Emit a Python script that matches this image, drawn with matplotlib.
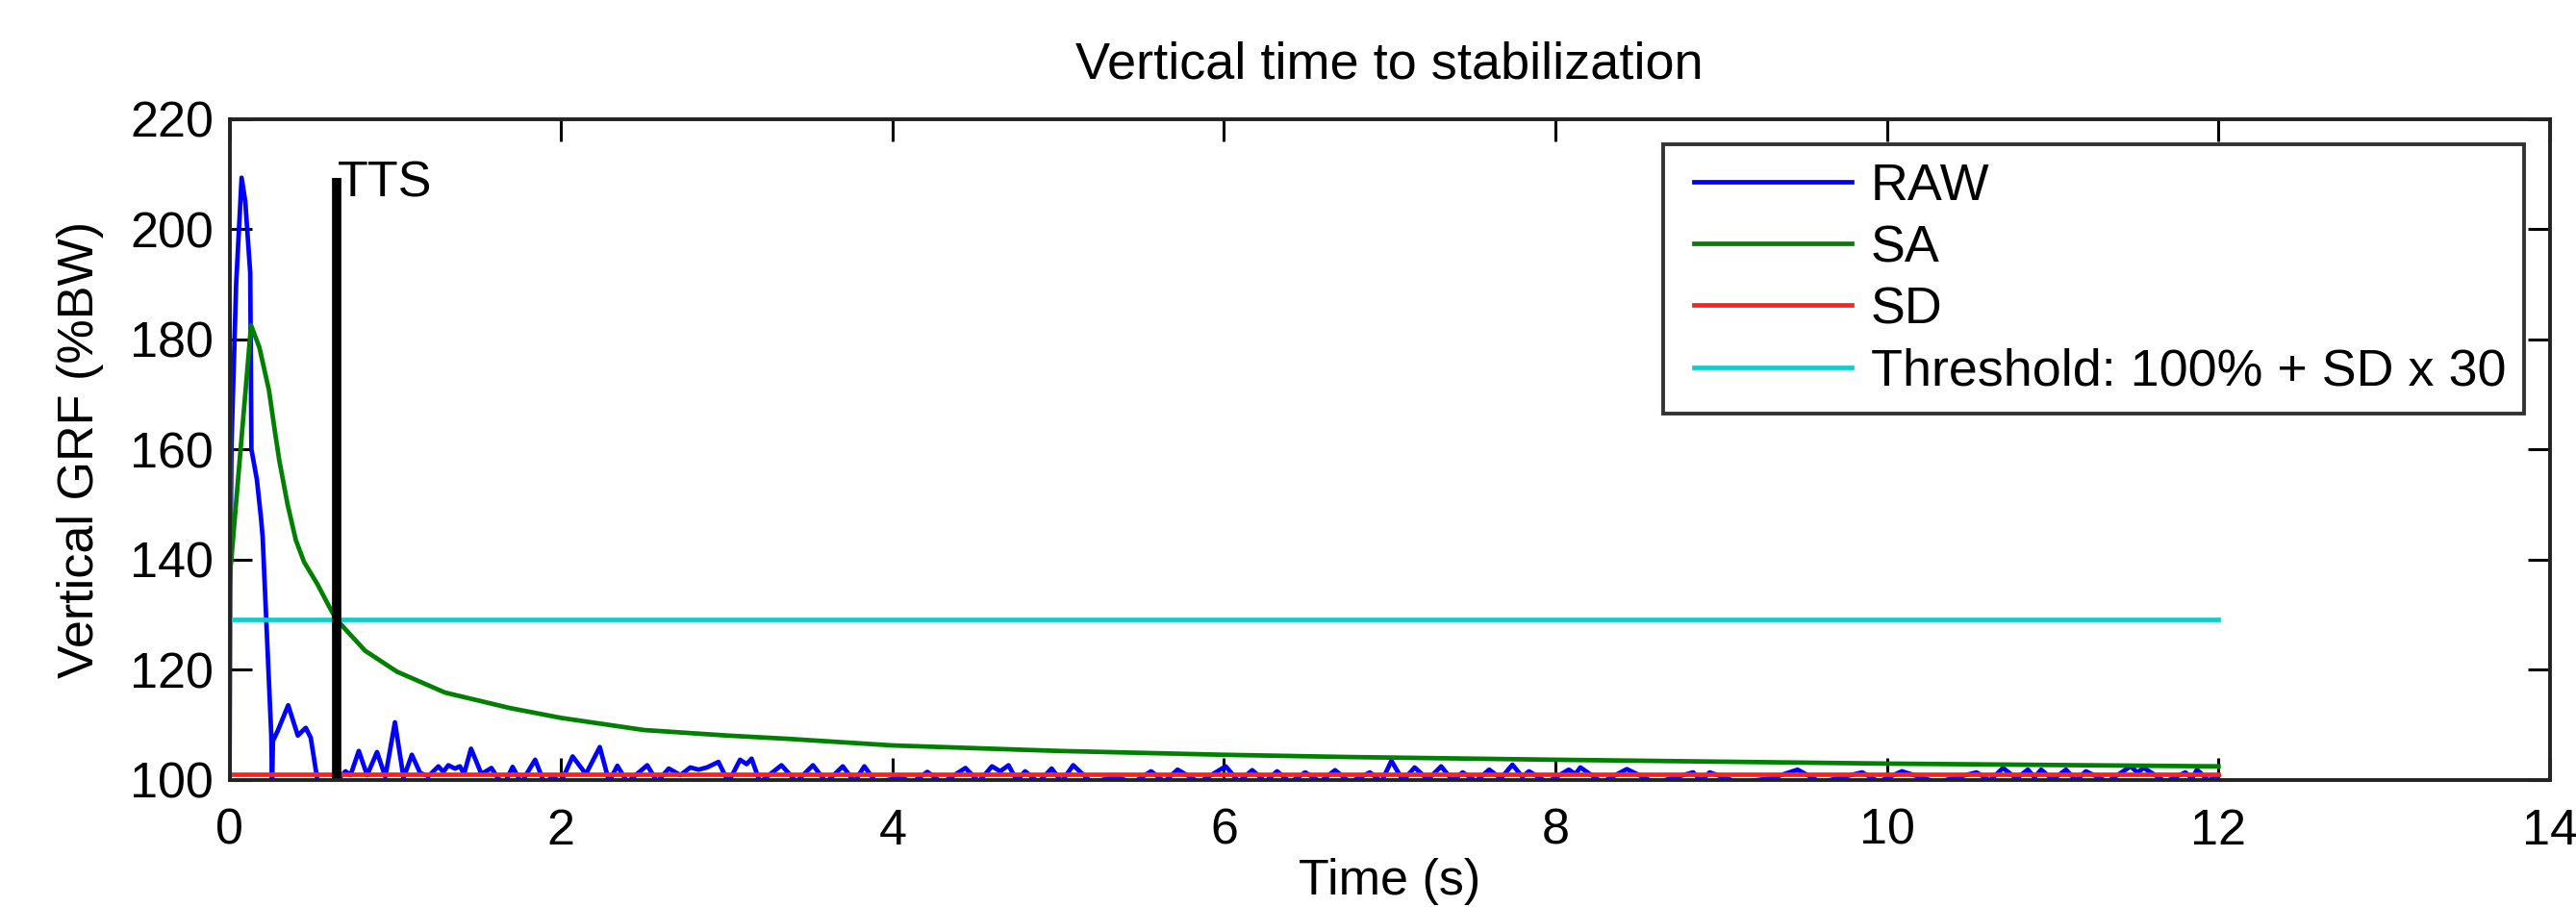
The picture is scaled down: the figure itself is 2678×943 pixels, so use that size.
import matplotlib
matplotlib.use('Agg')
import matplotlib.pyplot as plt
from matplotlib.legend_handler import HandlerLine2D

plt.rcParams['font.family'] = ['Liberation Sans', 'DejaVu Sans']
plt.rcParams['font.size'] = 37.5

# RAW vertical GRF (%BW)
raw_t = [0.000, 0.004, 0.012, 0.040, 0.073, 0.095, 0.125, 0.132, 0.165, 0.190,
         0.200, 0.238, 0.252, 0.257, 0.262, 0.290, 0.354, 0.412, 0.460, 0.490,
         0.520, 0.535, 0.600, 0.670, 0.700, 0.730, 0.780, 0.830, 0.890, 0.940,
         0.998, 1.050, 1.100, 1.150, 1.200, 1.260, 1.290, 1.320, 1.360, 1.390,
         1.415, 1.457, 1.520, 1.580, 1.620, 1.660, 1.708, 1.760, 1.844, 1.900,
         1.950, 2.000, 2.070, 2.150, 2.234, 2.290, 2.340, 2.400, 2.520, 2.580,
         2.650, 2.720, 2.780, 2.830, 2.880, 2.950, 3.010, 3.080, 3.120, 3.150,
         3.200, 3.330, 3.420, 3.520, 3.600, 3.700, 3.770, 3.830, 3.900, 4.050,
         4.120, 4.210, 4.300, 4.440, 4.520, 4.600, 4.650, 4.700, 4.750, 4.800,
         4.880, 4.960, 5.020, 5.090, 5.200, 5.350, 5.450, 5.560, 5.640, 5.720,
         5.850, 6.010, 6.090, 6.170, 6.250, 6.320, 6.400, 6.490, 6.580, 6.670,
         6.760, 6.880, 6.950, 7.010, 7.080, 7.150, 7.230, 7.310, 7.380, 7.440,
         7.520, 7.600, 7.670, 7.740, 7.800, 7.840, 7.950, 8.080, 8.120, 8.150,
         8.280, 8.430, 8.600, 8.830, 8.880, 8.930, 9.100, 9.300, 9.460, 9.600,
         9.850, 9.950, 10.090, 10.300, 10.540, 10.620, 10.700, 10.780, 10.850, 10.890,
         10.930, 11.000, 11.080, 11.140, 11.200, 11.330, 11.470, 11.510, 11.550, 11.680,
         11.800, 11.840, 11.870, 11.940, 12.000]
raw_v = [100.0, 135.0, 161.0, 190.0, 209.3, 205.0, 192.0, 160.0, 154.5, 147.5,
         144.0, 117.5, 108.0, 99.0, 107.0, 108.8, 113.5, 108.0, 109.4, 107.6,
         101.8, 99.0, 98.8, 100.5, 101.5, 100.8, 105.2, 100.8, 105.0, 100.5,
         110.4, 100.3, 104.5, 101.2, 100.6, 102.4, 101.4, 102.6, 102.0, 102.4,
         101.0, 105.6, 101.0, 102.1, 100.2, 99.3, 102.3, 99.4, 103.6, 99.3,
         100.5, 99.5, 104.2, 101.0, 105.9, 99.6, 102.5, 99.5, 102.6, 99.6,
         102.0, 100.8, 102.2, 101.8, 102.2, 103.2, 99.5, 103.6, 102.8, 103.8,
         99.5, 102.6, 99.6, 102.6, 99.5, 102.4, 99.6, 102.4, 99.5, 100.4,
         99.5, 101.4, 99.4, 102.1, 99.6, 102.4, 101.5, 102.6, 99.8, 101.5,
         99.5, 102.0, 99.6, 102.6, 99.5, 100.5, 99.4, 101.5, 99.6, 101.8,
         99.5, 102.4, 99.6, 101.7, 99.6, 101.5, 99.5, 101.3, 99.6, 101.7,
         99.5, 101.3, 99.6, 103.4, 99.8, 102.2, 100.0, 102.4, 99.8, 101.3,
         99.7, 101.8, 100.2, 102.7, 100.5, 101.5, 99.5, 101.8, 101.0, 102.2,
         99.5, 101.9, 99.4, 101.3, 99.8, 101.3, 99.5, 100.2, 101.8, 99.5,
         101.3, 99.6, 101.5, 99.5, 101.3, 99.8, 102.1, 100.2, 101.8, 100.4,
         101.8, 100.0, 101.8, 99.8, 101.5, 99.6, 102.4, 101.3, 102.1, 99.6,
         101.3, 100.2, 101.8, 99.8, 100.8]

# sequential average (SA)
sa_t = [0.000, 0.008, 0.130, 0.180, 0.238, 0.270, 0.300, 0.350, 0.400, 0.450,
        0.530, 0.605, 0.644, 0.818, 1.010, 1.300, 1.690, 2.000, 2.500, 3.000,
        3.370, 4.000, 5.000, 6.000, 6.740, 8.000, 10.000, 12.000]
sa_v = [185.5, 139.0, 182.5, 178.5, 170.7, 164.0, 158.0, 150.0, 143.5, 139.5,
        135.5, 131.2, 129.1, 123.4, 119.6, 115.8, 113.0, 111.2, 109.0, 108.0,
        107.4, 106.2, 105.2, 104.5, 104.1, 103.6, 102.9, 102.4]

# SD line and threshold (100% + SD x 30)
sd_t = [0, 12]
sd_v = [100.9, 100.9]
thr_t = [0, 12]
thr_v = [129.1, 129.1]

# time to stabilization marker
tts_time = 0.644
tts_peak = 209.3

fig = plt.figure(figsize=(26.78, 9.43), dpi=100)
ax = fig.add_axes([0.0891, 0.1405, 0.9008, 0.7285])

lw = 3.4
ax.plot(raw_t, raw_v, color='#0000ff', lw=lw, label='RAW')
ax.plot(sa_t, sa_v, color='#008000', lw=lw, label='SA')
ax.plot(sd_t, sd_v, color='#ff2020', lw=lw, label='SD')
ax.plot(thr_t, thr_v, color='#10cccc', lw=lw, label='Threshold: 100% + SD x 30')
ax.plot([tts_time, tts_time], [100, tts_peak], color='black', lw=7, solid_capstyle='butt')
ax.text(tts_time + 0.01, 205.8, 'TTS', va='baseline', ha='left')

ax.set_xlim(0, 14)
ax.set_ylim(100, 220)
ax.set_xticks(range(0, 15, 2))
ax.set_yticks(range(100, 221, 20))
ax.tick_params(direction='in', length=16.5, width=2.2, top=True, right=True)
ax.tick_params(axis='x', pad=21)
ax.tick_params(axis='y', pad=12)
for s in ax.spines.values():
    s.set_linewidth(2.8)
    s.set_color('#222222')

ax.set_title('Vertical time to stabilization', pad=30, fontsize=39)
ax.set_xlabel('Time (s)')
ax.xaxis.label.set_va('baseline')
ax.xaxis.set_label_coords(0.5, -0.174)
ax.set_ylabel('Vertical GRF (%BW)')
ax.yaxis.set_label_coords(-0.054, 0.5)

leg = ax.legend(loc='upper right', fancybox=False, framealpha=1, edgecolor='#333333',
                fontsize=38.8, borderaxespad=0.5, borderpad=0.35, handlelength=3.30,
                handletextpad=0.36, labelspacing=0.26,
                handler_map={plt.Line2D: HandlerLine2D(xpad=0.26)})
leg.get_frame().set_linewidth(2.8)

fig.savefig('out.png', dpi=100)
